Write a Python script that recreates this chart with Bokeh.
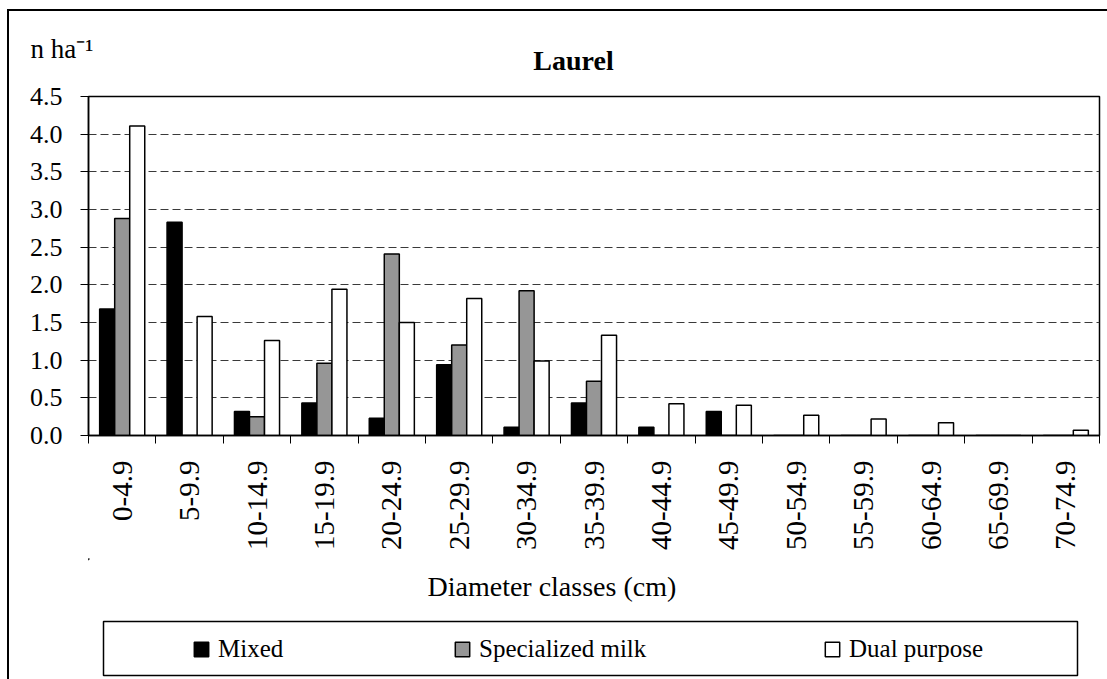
from bokeh.plotting import figure
from bokeh.layouts import column
from bokeh.models import (Range1d, FixedTicker, NumeralTickFormatter, Legend,
                          LegendItem, ColumnDataSource, Label, BoxAnnotation)
from bokeh.transform import dodge
from bokeh.embed import file_html
from bokeh.resources import INLINE

categories = ["0-4.9", "5-9.9", "10-14.9", "15-19.9", "20-24.9", "25-29.9", "30-34.9",
              "35-39.9", "40-44.9", "45-49.9", "50-54.9", "55-59.9", "60-64.9",
              "65-69.9", "70-74.9"]
mixed = [1.68, 2.83, 0.32, 0.43, 0.23, 0.94, 0.11, 0.43, 0.11, 0.32, 0, 0, 0, 0, 0]
specialized = [2.88, 0, 0.25, 0.96, 2.41, 1.20, 1.92, 0.72, 0, 0, 0, 0, 0, 0, 0]
dual = [4.11, 1.58, 1.26, 1.94, 1.50, 1.82, 0.99, 1.33, 0.42, 0.40, 0.27, 0.22, 0.17, 0, 0.07]
y_ticks = [0, 0.5, 1.0, 1.5, 2.0, 2.5, 3.0, 3.5, 4.0, 4.5]

FONT = "Liberation Serif"
n = len(categories)
centers = [2 * i + 1 for i in range(n)]
bw = 0.446
FILLS = ["black", "#969696", "white"]

# ---------------- main chart ----------------
p = figure(frame_width=1009, frame_height=337, x_range=Range1d(0, 2 * n), y_range=Range1d(0, 4.5),
           output_backend="svg", toolbar_location=None,
           min_border_left=79, min_border_right=10, min_border_top=85, min_border_bottom=125)
p.styles = {"margin-left": "7px", "margin-top": "9px",
            "border-left": "2px solid black", "border-top": "2px solid black"}
p.background_fill_color = "white"
p.border_fill_color = "white"
p.outline_line_color = "black"
p.outline_line_width = 1.5
p.outline_line_alpha = 1.0

p.xgrid.visible = False
p.ygrid.ticker = FixedTicker(ticks=y_ticks)
p.ygrid.grid_line_color = "#3a3a3a"
p.ygrid.grid_line_dash = "8 4"
p.ygrid.grid_line_width = 1

src = ColumnDataSource(dict(x=centers, mixed=mixed, specialized=specialized, dual=dual))
for col, off, fc in [("mixed", -bw, FILLS[0]), ("specialized", 0, FILLS[1]), ("dual", bw, FILLS[2])]:
    p.vbar(x=dodge("x", off, range=p.x_range), top=col, width=bw, source=src,
           fill_color=fc, line_color="black", line_width=1.5)

xa = p.xaxis[0]
xa.ticker = FixedTicker(ticks=centers, minor_ticks=list(range(0, 2 * n + 1, 2)))
xa.major_label_overrides = {c: lab for c, lab in zip(centers, categories)}
xa.major_label_orientation = 1.5707963
xa.major_tick_out = 0
xa.major_tick_in = 0
xa.minor_tick_out = 8
xa.minor_tick_in = 0
xa.minor_tick_line_color = "black"
xa.axis_line_color = "black"
xa.axis_line_width = 1.5
xa.major_label_standoff = 17
xa.major_label_text_font = FONT
xa.major_label_text_font_size = "29px"
xa.major_label_text_color = "black"

ya = p.yaxis[0]
ya.ticker = FixedTicker(ticks=y_ticks)
ya.formatter = NumeralTickFormatter(format="0.0")
ya.major_tick_out = 8
ya.major_tick_in = 0
ya.minor_tick_out = 0
ya.minor_tick_in = 0
ya.major_tick_line_color = "black"
ya.axis_line_color = "black"
ya.axis_line_width = 1.5
ya.major_label_standoff = 18
ya.major_label_text_font = FONT
ya.major_label_text_font_size = "26px"
ya.major_label_text_color = "black"

p.add_layout(Label(x=562, y=47, x_units="canvas", y_units="canvas", text="Laurel",
                   text_font=FONT, text_font_size="28px", text_font_style="bold",
                   text_align="center", text_baseline="alphabetic", text_color="black"), "above")
p.add_layout(Label(x=19, y=35, x_units="canvas", y_units="canvas", text="n ha\u207b\u00b9",
                   text_font=FONT, text_font_size="27px", text_baseline="alphabetic",
                   text_color="black"), "above")

# ---------------- axis title + legend strip ----------------
QH = 121
q = figure(width=1098, height=QH, x_range=Range1d(79, 1088), y_range=Range1d(QH, 0),
           x_axis_type=None, y_axis_type=None, output_backend="svg", toolbar_location=None,
           min_border=0, min_border_left=0, min_border_right=0, min_border_top=0,
           min_border_bottom=0)
q.styles = {"margin-left": "7px", "border-left": "2px solid black"}
q.outline_line_color = None
q.background_fill_color = "white"
q.border_fill_color = "white"
q.xgrid.visible = False
q.ygrid.visible = False

q.add_layout(Label(x=418, y=28, text="Diameter classes (cm)", text_font=FONT,
                   text_font_size="28px", text_baseline="alphabetic", text_color="black"))
q.add_layout(BoxAnnotation(left=94, right=1068, top=63, bottom=117, fill_alpha=0,
                           line_color="black", line_width=1.5, line_alpha=1))

names = ["Mixed", "Specialized milk", "Dual purpose"]
legend_x = [104, 365, 735]
for name, fc, lx in zip(names, FILLS, legend_x):
    # legend key proxy, kept outside the visible range
    proxy = q.vbar(x=[-500], top=[1], width=1, fill_color=fc, line_color="black", line_width=1.5)
    q.add_layout(Legend(items=[LegendItem(label=name, renderers=[proxy])], location=(lx, 16),
                        orientation="horizontal", border_line_color=None,
                        background_fill_alpha=0, padding=0, margin=0,
                        glyph_width=18, glyph_height=18, label_standoff=8,
                        label_text_font=FONT, label_text_font_size="25px",
                        label_text_color="black"))

layout = column(p, q, spacing=0)
open("out.html", "w").write(file_html(layout, INLINE))
